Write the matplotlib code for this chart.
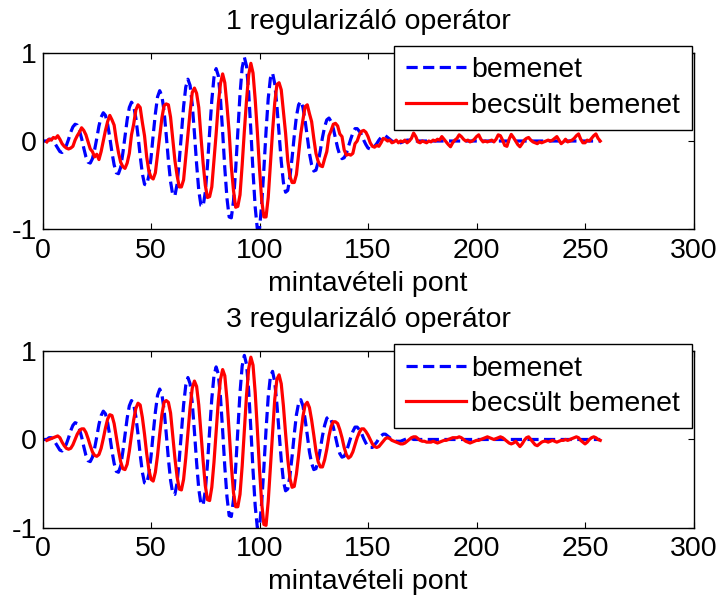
import numpy as np
import matplotlib
matplotlib.use("Agg")
import matplotlib.pyplot as plt

plt.rcParams['font.family'] = ['Liberation Sans', 'DejaVu Sans']

# ---------------- data ----------------
titles = ["1 regularizáló operátor", "3 regularizáló operátor"]
xlabel_text = "mintavételi pont"
legend_labels = ["bemenet", "becsült bemenet"]
xticks = [0, 50, 100, 150, 200, 250, 300]
yticks = [-1, 0, 1]

# input signal "bemenet", samples 0..257
bemenet = [
    0.00, 0.00, 0.00, 0.02, 0.02, 0.01, -0.04, -0.08, -0.12, -0.13,
    -0.10, -0.05, 0.02, 0.10, 0.16, 0.19, 0.18, 0.12, 0.03, -0.08,
    -0.18, -0.24, -0.25, -0.20, -0.10, 0.03, 0.17, 0.27, 0.32, 0.29,
    0.19, 0.04, -0.13, -0.27, -0.36, -0.37, -0.30, -0.14, 0.05, 0.24,
    0.38, 0.44, 0.40, 0.26, 0.06, -0.17, -0.37, -0.49, -0.50, -0.39,
    -0.19, 0.07, 0.31, 0.50, 0.57, 0.51, 0.34, 0.07, -0.22, -0.46,
    -0.61, -0.62, -0.49, -0.23, 0.08, 0.39, 0.61, 0.70, 0.63, 0.41,
    0.09, -0.26, -0.56, -0.73, -0.74, -0.58, -0.28, 0.10, 0.46, 0.72,
    0.82, 0.74, 0.48, 0.10, -0.31, -0.65, -0.86, -0.87, -0.68, -0.32,
    0.11, 0.53, 0.83, 0.95, 0.85, 0.55, 0.12, -0.35, -0.75, -1.00,
    -0.99, -0.71, -0.32, 0.11, 0.48, 0.71, 0.77, 0.65, 0.40, 0.08,
    -0.23, -0.47, -0.58, -0.56, -0.41, -0.19, 0.06, 0.28, 0.41, 0.45,
    0.38, 0.23, 0.05, -0.14, -0.27, -0.34, -0.33, -0.24, -0.11, 0.04,
    0.16, 0.24, 0.26, 0.22, 0.14, 0.03, -0.08, -0.16, -0.20, -0.19,
    -0.14, -0.06, 0.02, 0.09, 0.14, 0.14, 0.11, 0.07, 0.01, -0.04,
    -0.08, -0.09, -0.09, -0.06, -0.03, 0.01, 0.04, 0.06, 0.06, 0.04,
    0.02, 0.00, -0.01, -0.02, -0.02, -0.02, -0.01, 0.00, 0.01, 0.01,
    0.01, 0.00, 0.00, 0.00, 0.00, 0.00, 0.00, 0.00, 0.00, 0.00,
    0.00, 0.00, 0.00, 0.00, 0.00, 0.00, 0.00, 0.00, 0.00, 0.00,
    0.00, 0.00, 0.00, 0.00, 0.00, 0.00, 0.00, 0.00, 0.00, 0.00,
    0.00, 0.00, 0.00, 0.00, 0.00, 0.00, 0.00, 0.00, 0.00, 0.00,
    0.00, 0.00, 0.00, 0.00, 0.00, 0.00, 0.00, 0.00, 0.00, 0.00,
    0.00, 0.00, 0.00, 0.00, 0.00, 0.00, 0.00, 0.00, 0.00, 0.00,
    0.00, 0.00, 0.00, 0.00, 0.00, 0.00, 0.00, 0.00, 0.00, 0.00,
    0.00, 0.00, 0.00, 0.00, 0.00, 0.00, 0.00, 0.00, 0.00, 0.00,
    0.00, 0.00, 0.00, 0.00, 0.00, 0.00, 0.00, 0.00,
]

# estimated input, 1 regularising operator, samples 2..257
becsult_1 = [
    -0.01, 0.02, 0.01, 0.04, 0.03, 0.06, 0.02, -0.03,
    -0.06, -0.08, -0.09, -0.08, -0.06, 0.01, 0.06, 0.10, 0.15, 0.12,
    0.07, -0.01, -0.09, -0.12, -0.18, -0.15, -0.21, -0.12, 0.00, 0.12,
    0.22, 0.29, 0.24, 0.18, 0.01, -0.13, -0.24, -0.29, -0.31, -0.25,
    -0.14, 0.07, 0.19, 0.35, 0.41, 0.38, 0.21, 0.06, -0.18, -0.34,
    -0.41, -0.43, -0.36, -0.15, 0.05, 0.26, 0.40, 0.42, 0.41, 0.27,
    0.03, -0.22, -0.39, -0.52, -0.52, -0.44, -0.18, 0.09, 0.33, 0.55,
    0.60, 0.54, 0.38, 0.05, -0.25, -0.50, -0.64, -0.63, -0.52, -0.22,
    0.08, 0.42, 0.65, 0.76, 0.66, 0.40, 0.10, -0.29, -0.56, -0.75,
    -0.74, -0.61, -0.27, 0.11, 0.46, 0.75, 0.88, 0.77, 0.47, 0.10,
    -0.32, -0.67, -0.86, -0.86, -0.64, -0.27, 0.11, 0.43, 0.64, 0.66,
    0.58, 0.33, 0.09, -0.22, -0.40, -0.47, -0.47, -0.38, -0.15, 0.08,
    0.24, 0.39, 0.41, 0.31, 0.22, 0.03, -0.14, -0.23, -0.28, -0.29,
    -0.20, -0.12, 0.06, 0.12, 0.19, 0.20, 0.17, 0.08, 0.05, -0.10,
    -0.16, -0.15, -0.16, -0.14, -0.03, 0.00, 0.07, 0.11, 0.12, 0.10,
    0.05, -0.02, -0.06, -0.07, -0.05, -0.06, -0.02, 0.03, 0.02, 0.00,
    0.01, -0.02, -0.01, 0.01, -0.02, 0.00, -0.01, 0.01, -0.02, 0.00,
    0.03, 0.09, 0.05, -0.01, -0.02, 0.00, -0.01, -0.02, 0.00, -0.01,
    0.01, 0.00, 0.02, 0.01, 0.05, 0.02, -0.01, -0.04, -0.065, -0.02,
    0.01, 0.03, 0.07, 0.05, 0.02, 0.00, 0.01, -0.01, 0.00, 0.02,
    0.05, 0.07, 0.02, -0.01, 0.00, -0.01, 0.00, 0.01, -0.01, 0.02,
    0.07, 0.06, 0.01, -0.05, -0.06, 0.02, 0.075, 0.04, 0.00, -0.04,
    -0.065, -0.03, 0.01, 0.03, 0.04, 0.01, -0.01, -0.02, -0.03, -0.01,
    -0.02, -0.01, 0.00, 0.01, 0.00, 0.01, 0.03, 0.05, 0.01, -0.03,
    -0.01, 0.02, -0.01, 0.00, 0.01, 0.03, 0.06, 0.08, 0.02, -0.02,
    -0.02, 0.01, 0.00, 0.03, 0.06, 0.08, 0.03, 0.00,
]

# estimated input, 3 regularising operators, samples 2..257
becsult_3 = [
    -0.01, 0.00, 0.01, 0.02, 0.03, 0.04, 0.02, -0.03,
    -0.07, -0.10, -0.11, -0.10, -0.06, 0.00, 0.06, 0.10, 0.12, 0.12,
    0.08, 0.01, -0.07, -0.14, -0.18, -0.19, -0.17, -0.10, 0.01, 0.13,
    0.23, 0.28, 0.27, 0.18, 0.03, -0.12, -0.25, -0.33, -0.34, -0.28,
    -0.13, 0.05, 0.22, 0.35, 0.41, 0.39, 0.25, 0.06, -0.16, -0.34,
    -0.45, -0.47, -0.37, -0.18, 0.06, 0.28, 0.42, 0.44, 0.42, 0.30,
    0.05, -0.21, -0.42, -0.56, -0.57, -0.45, -0.21, 0.08, 0.36, 0.58,
    0.66, 0.60, 0.39, 0.08, -0.24, -0.52, -0.68, -0.69, -0.54, -0.26,
    0.09, 0.43, 0.68, 0.79, 0.72, 0.45, 0.09, -0.29, -0.60, -0.76,
    -0.76, -0.62, -0.30, 0.11, 0.50, 0.80, 0.93, 0.84, 0.53, 0.11,
    -0.34, -0.72, -0.96, -0.97, -0.70, -0.31, 0.10, 0.45, 0.68, 0.73,
    0.63, 0.38, 0.07, -0.22, -0.44, -0.54, -0.53, -0.39, -0.18, 0.06,
    0.26, 0.39, 0.42, 0.36, 0.22, 0.05, -0.13, -0.25, -0.31, -0.31,
    -0.23, -0.11, 0.04, 0.15, 0.20, 0.20, 0.18, 0.11, 0.02, -0.09,
    -0.17, -0.21, -0.19, -0.14, -0.06, 0.02, 0.08, 0.12, 0.12, 0.09,
    0.05, 0.00, -0.05, -0.08, -0.09, -0.08, -0.05, -0.02, 0.01, 0.02,
    0.01, -0.01, -0.02, -0.03, -0.04, -0.05, -0.05, -0.04, -0.02, 0.00,
    0.02, 0.03, 0.03, 0.01, -0.01, -0.02, -0.02, -0.03, -0.03, -0.03,
    -0.02, -0.03, -0.04, -0.03, -0.02, -0.01, -0.01, 0.00, 0.01, 0.02,
    0.02, 0.02, 0.03, 0.02, 0.00, -0.02, -0.03, -0.04, -0.03, -0.02,
    -0.01, -0.01, 0.00, 0.01, 0.02, 0.03, 0.02, 0.01, 0.00, 0.01,
    0.02, 0.03, 0.02, 0.00, -0.02, -0.04, -0.05, -0.04, -0.02, -0.05,
    -0.08, -0.05, -0.01, 0.02, 0.03, 0.00, -0.03, -0.06, -0.07, -0.05,
    -0.03, -0.02, -0.02, -0.03, -0.02, -0.01, -0.02, -0.03, -0.02, -0.01,
    -0.01, 0.00, -0.01, 0.00, 0.01, 0.02, 0.03, 0.02, -0.01, -0.03,
    -0.05, -0.03, 0.00, 0.02, 0.03, 0.02, 0.00, -0.01,
]
estimate_first_sample = 2
estimates = [becsult_1, becsult_3]

# ---------------- figure ----------------
FS = 20.5
fig = plt.figure(figsize=(7.22, 5.97), dpi=100)
fig.patch.set_facecolor("white")
axes_rects = [
    [0.0589, 0.6159, 0.9017, 0.2958],
    [0.0589, 0.1156, 0.9017, 0.2965],
]

x_in = np.arange(len(bemenet))
for rect, title, est in zip(axes_rects, titles, estimates):
    ax = fig.add_axes(rect)
    x_est = np.arange(estimate_first_sample, estimate_first_sample + len(est))
    ax.plot(x_in, bemenet, linestyle="--", color=(0, 0, 1), linewidth=2.3,
            dashes=(3.5, 1.7), label=legend_labels[0])
    ax.plot(x_est, est, linestyle="-", color=(1, 0, 0), linewidth=2.3,
            label=legend_labels[1])
    ax.set_xlim(0, 300)
    ax.set_ylim(-1, 1)
    ax.set_xticks(xticks)
    ax.set_yticks(yticks)
    ax.set_xticklabels([str(t) for t in xticks])
    ax.set_yticklabels([str(t) for t in yticks])
    ax.tick_params(direction="in", length=4, width=0.8, top=True, right=True,
                   labelsize=FS)
    ax.tick_params(axis="x", pad=6)
    ax.tick_params(axis="y", pad=4)
    for sp in ax.spines.values():
        sp.set_linewidth(1.0)
        sp.set_color("black")
    ax.set_title(title, fontsize=FS, pad=17)
    ax.set_xlabel(xlabel_text, fontsize=FS, labelpad=5)
    leg = ax.legend(loc="upper right", bbox_to_anchor=(0.997, 1.038),
                    borderaxespad=0.0, fontsize=FS, frameon=True, fancybox=False,
                    edgecolor="black", framealpha=1.0, handlelength=2.1,
                    handletextpad=0.2, labelspacing=0.33, borderpad=0.4)
    leg.get_frame().set_linewidth(1.0)

fig.savefig("out.png", dpi=100, facecolor="white")
